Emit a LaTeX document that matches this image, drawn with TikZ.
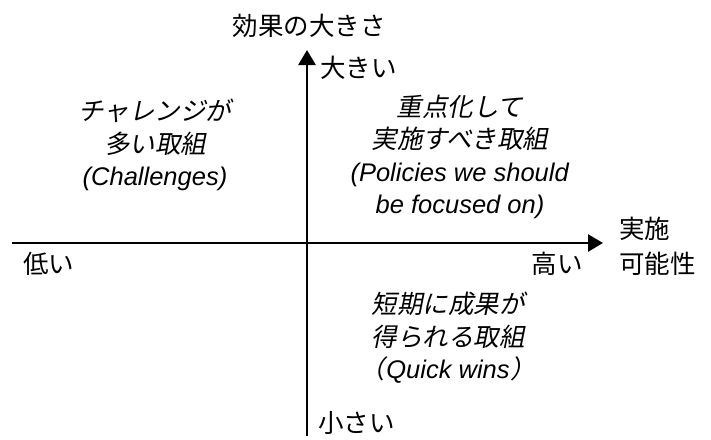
\documentclass[tikz,border=0pt]{standalone}
\usepackage{fontspec}
\setmainfont{Liberation Sans}
\newfontfamily\jp{Noto Sans CJK JP}
\newfontfamily\jpit[FakeSlant=0.2]{Noto Sans CJK JP}
\usetikzlibrary{arrows.meta}
\begin{document}
\begin{tikzpicture}[x=1pt,y=-1pt,
  lbl/.style={inner sep=0pt,font=\fontsize{25.5}{30}\selectfont\jp},
  quad/.style={inner sep=0pt,align=center,font=\fontsize{25.5}{32.5}\selectfont},
  axis/.style={line width=2.7pt,-{Triangle[length=15pt,width=17pt]}}]
\useasboundingbox (0,0) rectangle (711,439);
\coordinate (ytop) at (307,50);
\coordinate (ybot) at (307,436);
\coordinate (xl) at (12,243);
\coordinate (xr) at (603,243);
\draw[axis] (ybot) -- (ytop);
\draw[axis] (xl) -- (xr);
\node[lbl] (title) at (309,26) {効果の大きさ};
\node[lbl,anchor=west] (big) at (320,68) {大きい};
\node[lbl,anchor=west] (small) at (318,423) {小さい};
\node[lbl,anchor=west] (low) at (23,264) {低い};
\node[lbl,anchor=east] (high) at (583,264) {高い};
\node[lbl,anchor=west,align=left,font=\fontsize{25.5}{35}\selectfont\jp] (feas) at (619,246) {実施\\可能性};
\node[quad] (chal) at (155,145) {{\jpit チャレンジが}\\{\jpit 多い取組}\\\textit{(Challenges)}};
\node[quad] (focus) at (460,157) {{\jpit 重点化して}\\{\jpit 実施すべき取組}\\\textit{(Policies we should}\\\textit{be focused on)}};
\node[quad] (quick) at (448,338) {{\jpit 短期に成果が}\\{\jpit 得られる取組}\\{\jpit （}\kern1pt\textit{Quick wins}\kern1pt{\jpit ）}};
\end{tikzpicture}
\end{document}
